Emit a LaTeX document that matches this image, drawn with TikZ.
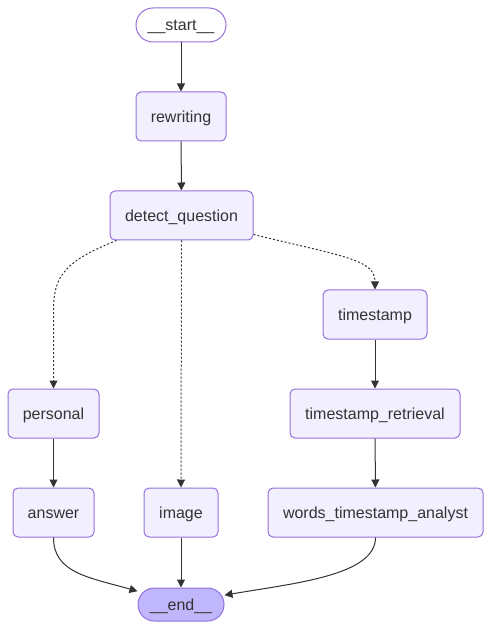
\documentclass[tikz,border=0pt]{standalone}
\usepackage{fontspec}
\setmainfont{Liberation Sans}
\usetikzlibrary{arrows.meta}
\definecolor{nodefill}{HTML}{F2F0FF}
\definecolor{nodeline}{HTML}{9370DB}
\definecolor{endfill}{HTML}{BFB6FC}
\definecolor{edgecol}{HTML}{333333}
\definecolor{txt}{HTML}{333333}
\tikzset{
  box/.style={draw=nodeline, fill=nodefill, line width=0.75pt, rounded corners=3.75pt,
    minimum height=36.75pt, inner sep=0pt, text=txt, text height=10.8pt, text depth=2.5pt,
    font=\fontsize{12pt}{14pt}\selectfont},
  term/.style={box, minimum height=25.5pt, rounded corners=12.7pt},
  edge/.style={draw=edgecol, line width=0.75pt, -{Triangle[length=6pt,width=6pt]}},
  condedge/.style={edge, dash pattern=on 1.5pt off 1.5pt},
}
\begin{document}
\begin{tikzpicture}[x=0.75pt,y=-0.75pt]
\useasboundingbox (0,0) rectangle (491,630);
\node[term, fill=white, minimum width=67.5pt] (start) at (181,25) {\_\_start\_\_};
\node[box, minimum width=67.5pt] (rewriting) at (181,116.5) {rewriting};
\node[box, minimum width=107.25pt] (detect) at (181.5,215.5) {detect\_question};
\node[box, minimum width=78pt] (timestamp) at (375,314.5) {timestamp};
\node[box, minimum width=68.25pt] (personal) at (53.5,413.5) {personal};
\node[box, minimum width=127.5pt] (retrieval) at (375,413.5) {timestamp\_retrieval};
\node[box, minimum width=60.75pt] (answer) at (53.5,512.5) {answer};
\node[box, minimum width=55.5pt] (image) at (181,512.5) {image};
\node[box, minimum width=161.25pt] (words) at (375.5,512.5) {words\_timestamp\_analyst};
\node[term, fill=endfill, minimum width=64.5pt, minimum height=24.75pt, rounded corners=12.3pt] (end) at (181,604.5) {\_\_end\_\_};

\draw[edge] (start) -- (rewriting);
\draw[edge] (rewriting) -- (detect);
\draw[condedge] ([xshift=5.25pt]detect.south west) .. controls +(-50,20) and +(0,-35) .. ([yshift=59pt]personal.north) -- (personal.north);
\draw[condedge] (detect.south) -- (image.north);
\draw[condedge] ([yshift=4.5pt]detect.south east) .. controls +(90,22) and +(0,-30) .. (timestamp.north);
\draw[edge] (timestamp) -- (retrieval);
\draw[edge] (retrieval) -- (words);
\draw[edge] (personal) -- (answer);
\draw[edge] (answer.south) .. controls +(0,35) and +(-50,-14) .. ([yshift=10pt]end.west);
\draw[edge] (image) -- (end);
\draw[edge] (words.south) .. controls +(0,38) and +(70,-12) .. ([yshift=7pt]end.east);
\end{tikzpicture}
\end{document}
